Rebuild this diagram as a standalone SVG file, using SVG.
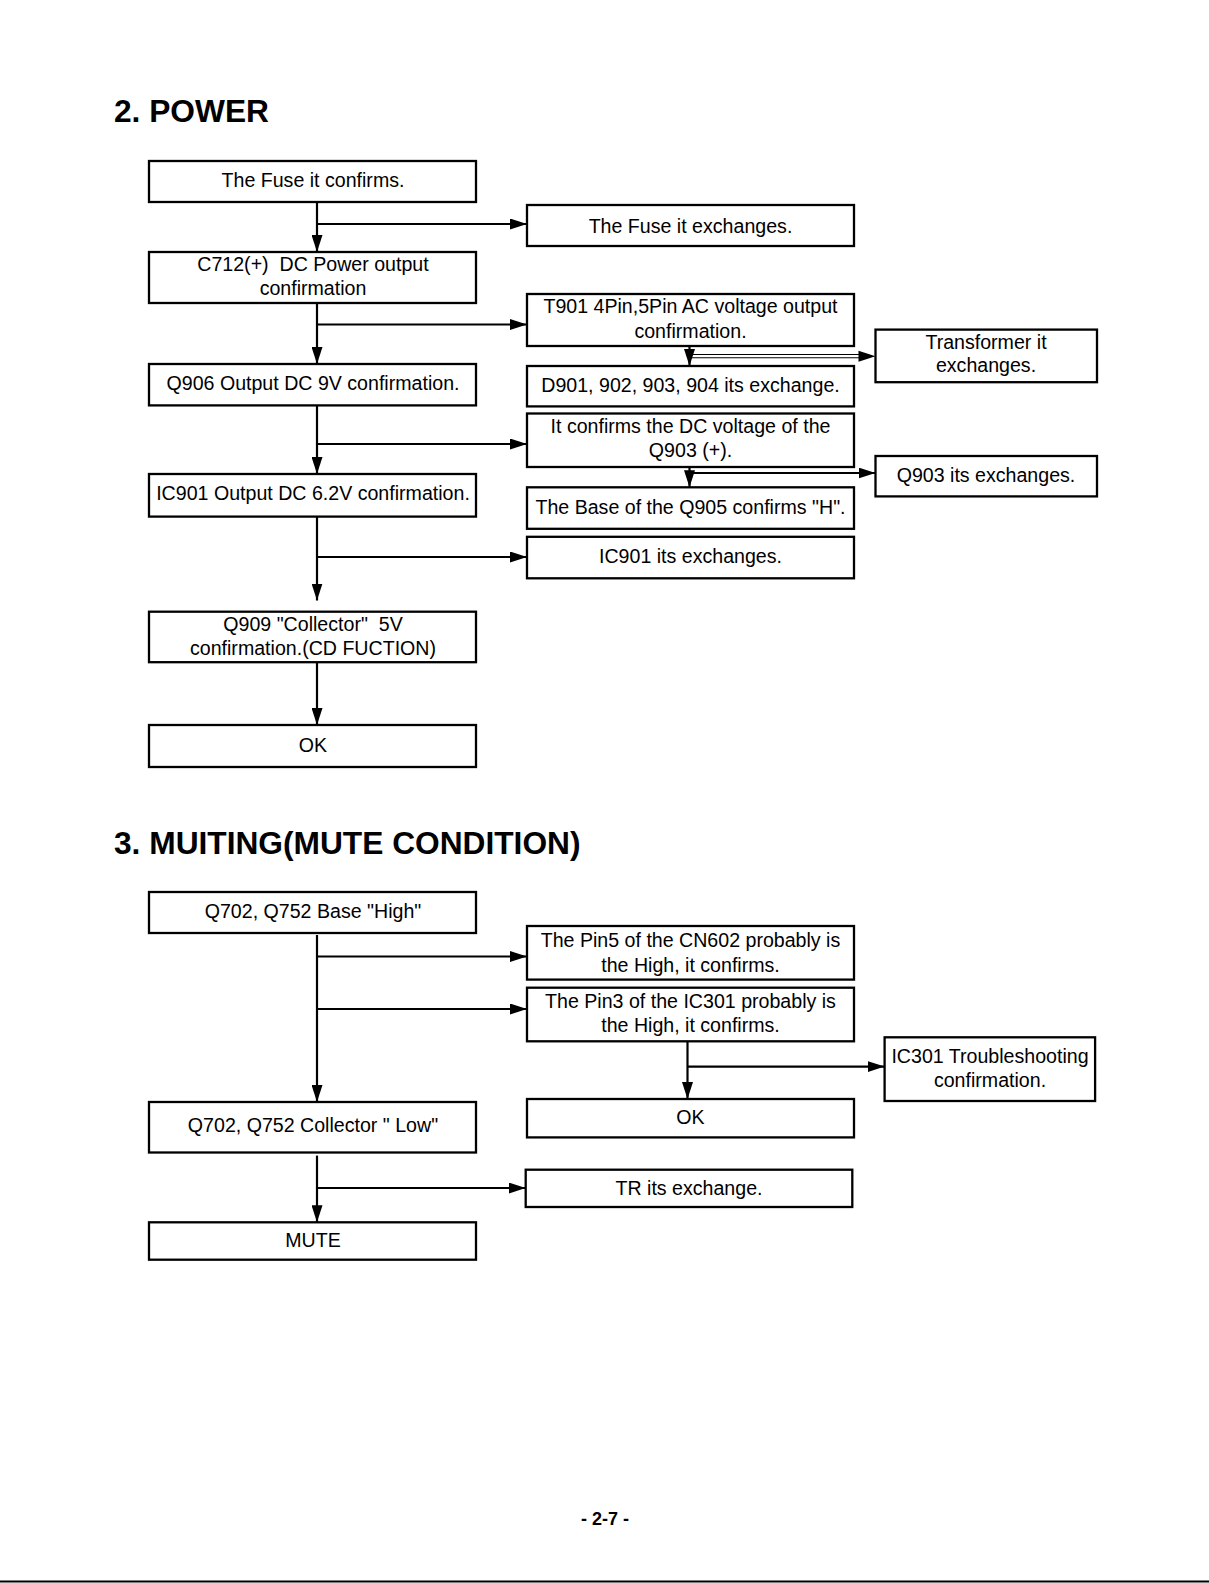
<svg xmlns="http://www.w3.org/2000/svg" width="1209" height="1583" viewBox="0 0 1209 1583">
<style>
  .box{fill:#fff;stroke:#000;stroke-width:2.3}
  .t{font-family:"Liberation Sans",Arial,Helvetica,sans-serif;font-size:19.6px;fill:#000;text-anchor:middle;white-space:pre}
  .h{font-family:"Liberation Sans",Arial,Helvetica,sans-serif;font-size:31.7px;font-weight:bold;fill:#000}
  .pg{font-family:"Liberation Sans",Arial,Helvetica,sans-serif;font-size:18px;font-weight:bold;fill:#000;text-anchor:middle}
  .c{fill:none;stroke:#000;stroke-width:2.2}
  .a{marker-end:url(#arr)}
  .thin{fill:none;stroke:#000;stroke-width:1.1}
</style>
<defs>
  <marker id="arr" viewBox="0 0 17 11" refX="17" refY="5.5" markerWidth="17" markerHeight="11" markerUnits="userSpaceOnUse" orient="auto">
    <path d="M0,0 L17,5.5 L0,11 z" fill="#000"/>
  </marker>
</defs>
<rect width="1209" height="1583" fill="#fff"/>

<text class="h" x="114" y="122">2. POWER</text>
<text class="h" x="114" y="854">3. MUITING(MUTE CONDITION)</text>

<g id="connectors">
  <line class="c a" x1="317" y1="202" x2="317" y2="252"/>
  <line class="c a" x1="317" y1="224" x2="527" y2="224"/>
  <line class="c a" x1="317" y1="303" x2="317" y2="364"/>
  <line class="c a" x1="317" y1="324.5" x2="527" y2="324.5"/>
  <line class="c a" x1="317" y1="405.5" x2="317" y2="474"/>
  <line class="c a" x1="317" y1="444" x2="527" y2="444"/>
  <line class="c a" x1="317" y1="516.5" x2="317" y2="600.5"/>
  <line class="c a" x1="317" y1="557" x2="527" y2="557"/>
  <line class="c a" x1="317" y1="662" x2="317" y2="725"/>
  <line class="c a" x1="689.5" y1="346" x2="689.5" y2="366"/>
  <line class="thin" x1="689.5" y1="354.5" x2="862" y2="354.5"/>
  <line class="thin" x1="689.5" y1="357.8" x2="862" y2="357.8"/>
  <polygon points="858.5,350.7 875.5,356.2 858.5,361.7" fill="#000"/>
  <line class="c a" x1="689.5" y1="467" x2="689.5" y2="487.3"/>
  <line class="c a" x1="689.5" y1="473" x2="875.5" y2="473"/>
  <line class="c a" x1="317" y1="935" x2="317" y2="1102"/>
  <line class="c a" x1="317" y1="956.5" x2="527" y2="956.5"/>
  <line class="c a" x1="317" y1="1009" x2="527" y2="1009"/>
  <line class="c a" x1="687.5" y1="1041.3" x2="687.5" y2="1099"/>
  <line class="c a" x1="687.5" y1="1066.6" x2="884.6" y2="1066.6"/>
  <line class="c a" x1="317" y1="1155.6" x2="317" y2="1222.3"/>
  <line class="c a" x1="317" y1="1188" x2="525.7" y2="1188"/>
</g>

<g id="n_fuse_confirm"><rect class="box" x="149" y="161" width="327" height="41"/><text class="t" x="313" y="187">The Fuse it confirms.</text></g>
<g id="n_fuse_exchange"><rect class="box" x="527" y="205" width="327" height="41"/><text class="t" x="690.5" y="232.5">The Fuse it exchanges.</text></g>
<g id="n_c712"><rect class="box" x="149" y="252" width="327" height="51"/><text class="t" x="313" y="271" xml:space="preserve">C712(+)  DC Power output</text><text class="t" x="313" y="295">confirmation</text></g>
<g id="n_t901"><rect class="box" x="527" y="294" width="327" height="52"/><text class="t" x="690.5" y="313.4">T901 4Pin,5Pin AC voltage output</text><text class="t" x="690.5" y="337.7">confirmation.</text></g>
<g id="n_transformer"><rect class="box" x="875.5" y="329.6" width="221.5" height="52.6"/><text class="t" x="986" y="348.8">Transformer it</text><text class="t" x="986" y="372">exchanges.</text></g>
<g id="n_q906"><rect class="box" x="149" y="364" width="327" height="41.4"/><text class="t" x="313" y="390">Q906 Output DC 9V confirmation.</text></g>
<g id="n_d901"><rect class="box" x="527" y="366" width="327" height="40.4"/><text class="t" x="690.5" y="392.3">D901, 902, 903, 904 its exchange.</text></g>
<g id="n_dcq903"><rect class="box" x="527" y="413.5" width="327" height="53.5"/><text class="t" x="690.5" y="432.7">It confirms the DC voltage of the</text><text class="t" x="690.5" y="457">Q903 (+).</text></g>
<g id="n_q903ex"><rect class="box" x="875.5" y="456" width="221.5" height="40.4"/><text class="t" x="986" y="482">Q903 its exchanges.</text></g>
<g id="n_ic901out"><rect class="box" x="149" y="474" width="327" height="42.6"/><text class="t" x="313" y="500.4">IC901 Output DC 6.2V confirmation.</text></g>
<g id="n_q905"><rect class="box" x="527" y="487.3" width="327" height="41.5"/><text class="t" x="690.5" y="513.6">The Base of the Q905 confirms "H".</text></g>
<g id="n_ic901ex"><rect class="box" x="527" y="536.8" width="327" height="41.5"/><text class="t" x="690.5" y="563">IC901 its exchanges.</text></g>
<g id="n_q909"><rect class="box" x="149" y="611.7" width="327" height="50.5"/><text class="t" x="313" y="631" xml:space="preserve">Q909 "Collector"  5V</text><text class="t" x="313" y="655">confirmation.(CD FUCTION)</text></g>
<g id="n_ok1"><rect class="box" x="149" y="725" width="327" height="42"/><text class="t" x="313" y="752">OK</text></g>

<g id="n_q702base"><rect class="box" x="149" y="892" width="327" height="41"/><text class="t" x="313" y="918">Q702, Q752 Base "High"</text></g>
<g id="n_pin5"><rect class="box" x="527" y="926" width="327" height="53.6"/><text class="t" x="690.5" y="947">The Pin5 of the CN602 probably is</text><text class="t" x="690.5" y="971.6">the High, it confirms.</text></g>
<g id="n_pin3"><rect class="box" x="527" y="987.7" width="327" height="53.6"/><text class="t" x="690.5" y="1008">The Pin3 of the IC301 probably is</text><text class="t" x="690.5" y="1032">the High, it confirms.</text></g>
<g id="n_ic301"><rect class="box" x="884.6" y="1037.3" width="210.5" height="63.7"/><text class="t" x="990" y="1062.6">IC301 Troubleshooting</text><text class="t" x="990" y="1086.8">confirmation.</text></g>
<g id="n_ok2"><rect class="box" x="527" y="1099" width="327" height="38.4"/><text class="t" x="690.5" y="1124">OK</text></g>
<g id="n_q702col"><rect class="box" x="149" y="1102" width="327" height="50.5"/><text class="t" x="313" y="1132" xml:space="preserve">Q702, Q752 Collector " Low"</text></g>
<g id="n_tr"><rect class="box" x="525.7" y="1169.7" width="326.6" height="37.3"/><text class="t" x="689" y="1195">TR its exchange.</text></g>
<g id="n_mute"><rect class="box" x="149" y="1222.3" width="327" height="37.4"/><text class="t" x="313" y="1246.6">MUTE</text></g>

<text class="pg" x="605" y="1524.6">- 2-7 -</text>
<line x1="0" y1="1581.5" x2="1209" y2="1581.5" stroke="#000" stroke-width="2"/>
</svg>
